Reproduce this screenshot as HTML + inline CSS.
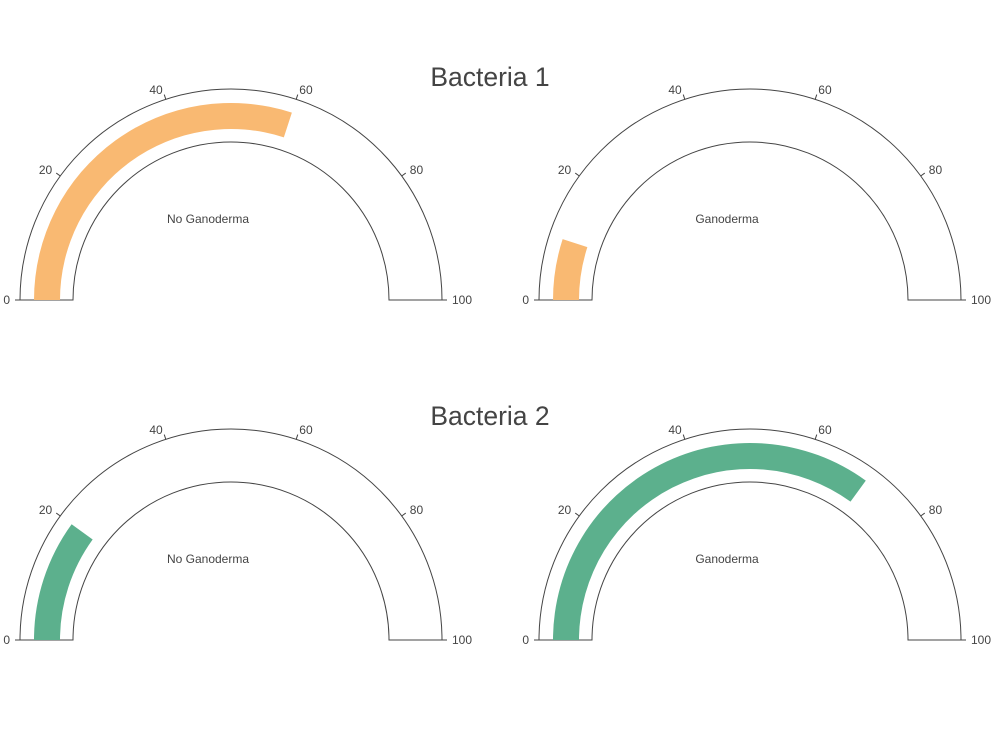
<!DOCTYPE html>
<html><head><meta charset="utf-8"><style>
body{margin:0;background:#fff}
svg{display:block;font-family:"Liberation Sans",sans-serif}
</style></head><body>
<svg id="c" width="992" height="744" viewBox="0 0 992 744">
<text x="490" y="86" font-size="26.5" fill="#444" text-anchor="middle">Bacteria 1</text>
<text x="490" y="425" font-size="26.5" fill="#444" text-anchor="middle">Bacteria 2</text>
</svg>
<script>
const gaugeLabels = ["No Ganoderma", "Ganoderma", "No Ganoderma", "Ganoderma"];
const gaugeValues = [60, 10, 20, 70];
const gaugeColors = ["#f9b972", "#f9b972", "#5cb08d", "#5cb08d"];
const tickValues = [0, 20, 40, 60, 80, 100];
const centers = [[231,300],[750,300],[231,640],[750,640]];
const R = 211, r = 158, bo = 197, bi = 171;
const svg = document.getElementById('c');
const NS = 'http://www.w3.org/2000/svg';
function ang(v){ return Math.PI * (1 - v/100); }
function pt(cx,cy,rad,v){ const a=ang(v); return [cx+rad*Math.cos(a), cy-rad*Math.sin(a)]; }
function arcPath(cx,cy,r1,r2,v0,v1){
  const a=pt(cx,cy,r1,v0), b=pt(cx,cy,r1,v1), c=pt(cx,cy,r2,v1), d=pt(cx,cy,r2,v0);
  const large = (v1-v0)>100?1:0;
  return `M${a[0]},${a[1]} A${r1},${r1} 0 ${large} 1 ${b[0]},${b[1]} L${c[0]},${c[1]} A${r2},${r2} 0 ${large} 0 ${d[0]},${d[1]} Z`;
}
function mk(tag, attrs){ const e=document.createElementNS(NS,tag); for(const k in attrs) e.setAttribute(k,attrs[k]); svg.appendChild(e); return e; }
gaugeValues.forEach((v,i)=>{
  const [cx,cy]=centers[i];
  const bg = mk('path',{d:arcPath(cx,cy,R,r,0,100),fill:'#fff',stroke:'#444','stroke-width':1});
  
  
  const bar = mk('path',{d:arcPath(cx,cy,bo,bi,0,v),fill:gaugeColors[i]});
  
  
  tickValues.forEach(t=>{
    const p1=pt(cx,cy,R,t), p2=pt(cx,cy,R+5,t);
    const tk = mk('line',{x1:p1[0],y1:p1[1],x2:p2[0],y2:p2[1],stroke:'#444','stroke-width':1});
    
    
    const lp=pt(cx,cy,R+10,t);
    const a=ang(t);
    const anchor = Math.cos(a)>0.3?'start':(Math.cos(a)<-0.3?'end':'middle');
    const tl = mk('text',{x:lp[0],y:lp[1]+4,'font-size':12,fill:'#444','text-anchor':anchor});
    tl.textContent = t;
    
    
  });
  const lb = mk('text',{x:cx-23,y:cy-77,'font-size':12,fill:'#444','text-anchor':'middle'});
  lb.textContent = gaugeLabels[i];
  
  
});
</script>
</body></html>
